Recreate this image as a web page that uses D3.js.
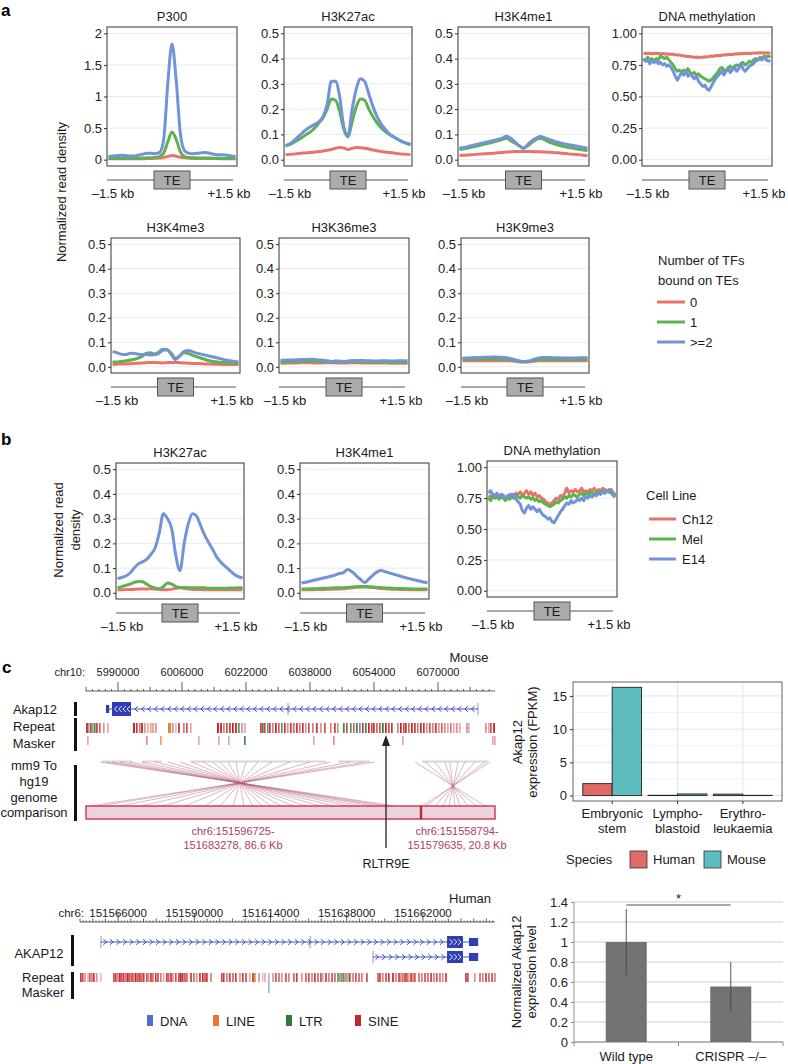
<!DOCTYPE html>
<html><head><meta charset="utf-8">
<script src="https://cdn.jsdelivr.net/npm/d3@7/dist/d3.min.js"></script>
<style>html,body{margin:0;padding:0;background:#fff;}</style>
</head><body>
<svg id="fig" width="788" height="1064" xmlns="http://www.w3.org/2000/svg"></svg>
<script>
// ================= DATA =================
const tfGroups = ["0", "1", ">=2"];
const cellLines = ["Ch12", "Mel", "E14"];
const profileRange = [-1.5, 1.5]; // kb around TE

const p300Ticks = [0, 0.5, 1, 1.5, 2];
const p300TickLabels = ["0", "0.5", "1", "1.5", "2"];
const histTicks = [0, 0.1, 0.2, 0.3, 0.4, 0.5];
const histTickLabels = ["0.0", "0.1", "0.2", "0.3", "0.4", "0.5"];
const methTicks = [0, 0.25, 0.5, 0.75, 1];
const methTickLabels = ["0.00", "0.25", "0.50", "0.75", "1.00"];

// panel a (31 bins, -1.5..+1.5 kb)
const p300_tf0 = [0.015,0.015,0.015,0.015,0.015,0.015,0.015,0.015,0.015,0.018,0.02,0.022,0.025,0.035,0.05,0.065,0.055,0.04,0.03,0.025,0.02,0.02,0.018,0.018,0.02,0.02,0.018,0.015,0.015,0.015,0.015];
const p300_tf1 = [0.02,0.02,0.02,0.02,0.02,0.02,0.02,0.022,0.025,0.028,0.03,0.035,0.05,0.1,0.28,0.44,0.32,0.12,0.05,0.035,0.03,0.028,0.025,0.025,0.025,0.022,0.02,0.02,0.02,0.02,0.02];
const p300_tf2 = [0.05,0.06,0.065,0.07,0.065,0.06,0.06,0.07,0.085,0.1,0.1,0.095,0.11,0.3,1.2,1.83,1.25,0.4,0.14,0.1,0.095,0.1,0.11,0.115,0.1,0.085,0.075,0.08,0.07,0.06,0.05];

const k27ac_tf0 = [0.02,0.021,0.022,0.024,0.026,0.027,0.028,0.03,0.032,0.034,0.037,0.04,0.045,0.048,0.046,0.04,0.045,0.048,0.047,0.045,0.042,0.038,0.035,0.032,0.03,0.028,0.026,0.024,0.022,0.021,0.02];
const k27ac_tf1 = [0.055,0.06,0.068,0.078,0.088,0.1,0.11,0.125,0.145,0.165,0.2,0.24,0.235,0.19,0.12,0.09,0.15,0.21,0.24,0.235,0.2,0.17,0.145,0.125,0.11,0.1,0.09,0.08,0.072,0.065,0.06];
const k27ac_tf2 = [0.055,0.062,0.075,0.09,0.105,0.12,0.13,0.14,0.15,0.17,0.22,0.31,0.31,0.25,0.13,0.095,0.2,0.28,0.32,0.31,0.26,0.21,0.17,0.14,0.12,0.1,0.09,0.08,0.07,0.065,0.06];

const k4me1_tf0 = [0.017,0.018,0.019,0.02,0.021,0.022,0.023,0.024,0.025,0.027,0.028,0.03,0.031,0.032,0.032,0.032,0.032,0.032,0.031,0.031,0.03,0.029,0.028,0.027,0.025,0.024,0.022,0.021,0.02,0.018,0.017];
const k4me1_tf1 = [0.04,0.043,0.046,0.05,0.054,0.058,0.062,0.066,0.07,0.075,0.08,0.085,0.075,0.065,0.055,0.045,0.055,0.068,0.08,0.085,0.078,0.07,0.064,0.058,0.054,0.05,0.047,0.044,0.041,0.038,0.036];
const k4me1_tf2 = [0.045,0.048,0.052,0.056,0.06,0.064,0.068,0.072,0.076,0.08,0.085,0.093,0.085,0.07,0.055,0.045,0.06,0.075,0.085,0.092,0.086,0.08,0.074,0.069,0.065,0.061,0.058,0.055,0.052,0.048,0.045];

// DNA methylation (61 bins)
const meth_tf0 = [0.840,0.843,0.840,0.842,0.838,0.841,0.843,0.840,0.838,0.840,0.837,0.838,0.835,0.834,0.835,0.831,0.828,0.829,0.824,0.822,0.819,0.816,0.817,0.813,0.811,0.812,0.808,0.810,0.811,0.814,0.813,0.817,0.820,0.818,0.822,0.825,0.823,0.827,0.830,0.828,0.832,0.834,0.833,0.836,0.838,0.836,0.840,0.838,0.842,0.840,0.843,0.841,0.845,0.843,0.846,0.844,0.847,0.845,0.847,0.845,0.845];
const meth_tf1 = [0.80,0.78,0.81,0.79,0.80,0.78,0.80,0.79,0.82,0.81,0.80,0.81,0.79,0.77,0.75,0.72,0.70,0.71,0.69,0.71,0.70,0.72,0.69,0.68,0.69,0.67,0.68,0.66,0.65,0.64,0.63,0.62,0.63,0.65,0.67,0.69,0.72,0.73,0.71,0.70,0.73,0.74,0.72,0.74,0.75,0.74,0.76,0.77,0.75,0.76,0.78,0.77,0.79,0.80,0.79,0.81,0.80,0.82,0.81,0.82,0.81];
const meth_tf2 = [0.80,0.78,0.79,0.76,0.78,0.77,0.78,0.76,0.77,0.75,0.76,0.74,0.75,0.73,0.70,0.66,0.63,0.66,0.69,0.67,0.70,0.66,0.68,0.66,0.64,0.66,0.62,0.60,0.58,0.59,0.56,0.55,0.58,0.61,0.64,0.66,0.68,0.70,0.67,0.70,0.72,0.69,0.71,0.73,0.70,0.72,0.76,0.72,0.70,0.72,0.74,0.75,0.76,0.78,0.79,0.80,0.79,0.81,0.79,0.78,0.78];

const k4me3_tf0 = [0.01,0.011,0.012,0.012,0.013,0.014,0.015,0.016,0.017,0.018,0.018,0.017,0.016,0.017,0.018,0.018,0.017,0.016,0.015,0.014,0.014,0.013,0.012,0.012,0.011,0.011,0.01,0.01,0.01,0.01,0.01];
const k4me3_tf1 = [0.02,0.02,0.022,0.024,0.027,0.03,0.035,0.042,0.055,0.058,0.052,0.06,0.072,0.07,0.055,0.035,0.045,0.058,0.055,0.048,0.042,0.036,0.03,0.025,0.022,0.02,0.018,0.017,0.016,0.016,0.015];
const k4me3_tf2 = [0.062,0.058,0.052,0.05,0.054,0.055,0.052,0.05,0.05,0.048,0.05,0.055,0.068,0.07,0.05,0.03,0.045,0.062,0.067,0.062,0.056,0.052,0.048,0.044,0.04,0.036,0.032,0.028,0.025,0.022,0.02];

const k36me3_tf0 = [0.015,0.015,0.016,0.016,0.016,0.017,0.017,0.017,0.016,0.016,0.016,0.017,0.017,0.016,0.016,0.016,0.016,0.017,0.017,0.016,0.016,0.016,0.016,0.016,0.016,0.016,0.015,0.015,0.015,0.015,0.015];
const k36me3_tf1 = [0.02,0.021,0.021,0.022,0.022,0.023,0.023,0.024,0.023,0.022,0.021,0.02,0.02,0.021,0.021,0.02,0.021,0.022,0.022,0.021,0.021,0.021,0.02,0.02,0.02,0.02,0.019,0.019,0.019,0.019,0.019];
const k36me3_tf2 = [0.027,0.027,0.028,0.028,0.029,0.03,0.03,0.031,0.03,0.028,0.027,0.025,0.022,0.024,0.023,0.022,0.024,0.026,0.025,0.026,0.025,0.025,0.024,0.024,0.025,0.025,0.024,0.024,0.025,0.025,0.025];

const k9me3_tf0 = [0.025,0.025,0.025,0.025,0.025,0.025,0.025,0.025,0.025,0.025,0.025,0.025,0.024,0.022,0.02,0.02,0.021,0.023,0.024,0.025,0.025,0.025,0.025,0.025,0.025,0.025,0.025,0.025,0.025,0.025,0.025];
const k9me3_tf1 = [0.03,0.03,0.031,0.031,0.031,0.032,0.032,0.032,0.031,0.031,0.031,0.03,0.028,0.025,0.022,0.021,0.022,0.026,0.029,0.03,0.03,0.03,0.03,0.03,0.03,0.03,0.03,0.03,0.03,0.03,0.03];
const k9me3_tf2 = [0.036,0.036,0.037,0.038,0.038,0.039,0.039,0.04,0.04,0.039,0.038,0.036,0.032,0.027,0.023,0.022,0.024,0.03,0.035,0.038,0.038,0.038,0.037,0.037,0.036,0.036,0.036,0.036,0.037,0.037,0.037];

// panel b (cell lines)
const b_k27ac_ch12 = [0.012,0.012,0.013,0.013,0.014,0.015,0.015,0.015,0.016,0.015,0.014,0.012,0.012,0.015,0.018,0.02,0.018,0.015,0.014,0.013,0.013,0.012,0.012,0.012,0.012,0.012,0.012,0.012,0.012,0.012,0.012];
const b_k27ac_mel = [0.02,0.025,0.03,0.035,0.042,0.046,0.045,0.035,0.025,0.02,0.016,0.025,0.04,0.035,0.025,0.022,0.022,0.021,0.02,0.02,0.02,0.02,0.018,0.018,0.018,0.018,0.018,0.019,0.019,0.02,0.02];
const b_k27ac_e14 = [0.058,0.062,0.068,0.08,0.1,0.117,0.125,0.135,0.155,0.18,0.24,0.32,0.3,0.26,0.15,0.09,0.2,0.28,0.32,0.31,0.27,0.23,0.2,0.17,0.14,0.12,0.105,0.09,0.075,0.065,0.06];

const b_k4me1_ch12 = [0.012,0.012,0.012,0.013,0.013,0.013,0.014,0.014,0.015,0.015,0.016,0.018,0.02,0.022,0.023,0.024,0.023,0.021,0.019,0.017,0.016,0.015,0.014,0.014,0.013,0.013,0.012,0.012,0.012,0.012,0.012];
const b_k4me1_mel = [0.015,0.015,0.016,0.016,0.017,0.018,0.018,0.019,0.02,0.02,0.021,0.022,0.024,0.025,0.026,0.026,0.025,0.024,0.022,0.021,0.02,0.019,0.018,0.017,0.017,0.016,0.016,0.015,0.015,0.015,0.015];
const b_k4me1_e14 = [0.04,0.043,0.047,0.051,0.055,0.059,0.063,0.067,0.072,0.078,0.082,0.094,0.085,0.07,0.055,0.042,0.055,0.072,0.085,0.09,0.085,0.08,0.075,0.07,0.065,0.06,0.056,0.052,0.048,0.044,0.041];

const b_meth_ch12 = [0.77,0.76,0.78,0.75,0.77,0.76,0.78,0.77,0.75,0.77,0.76,0.78,0.77,0.79,0.78,0.80,0.77,0.79,0.81,0.78,0.80,0.77,0.79,0.76,0.77,0.75,0.74,0.72,0.71,0.70,0.71,0.73,0.75,0.74,0.77,0.76,0.79,0.83,0.79,0.81,0.80,0.82,0.80,0.81,0.83,0.80,0.81,0.80,0.82,0.81,0.83,0.80,0.82,0.81,0.83,0.82,0.81,0.80,0.82,0.79,0.78];
const b_meth_mel = [0.75,0.73,0.77,0.75,0.76,0.74,0.76,0.75,0.73,0.75,0.74,0.76,0.75,0.77,0.76,0.75,0.77,0.76,0.75,0.76,0.74,0.75,0.73,0.74,0.72,0.73,0.71,0.70,0.69,0.68,0.69,0.70,0.72,0.71,0.73,0.74,0.76,0.75,0.77,0.76,0.78,0.77,0.76,0.78,0.79,0.77,0.79,0.78,0.80,0.79,0.78,0.80,0.79,0.81,0.80,0.79,0.81,0.80,0.79,0.77,0.76];
const b_meth_e14 = [0.79,0.81,0.78,0.77,0.79,0.76,0.78,0.77,0.75,0.76,0.78,0.77,0.78,0.74,0.72,0.70,0.65,0.63,0.67,0.69,0.66,0.68,0.66,0.64,0.66,0.63,0.61,0.60,0.58,0.59,0.56,0.55,0.58,0.61,0.64,0.66,0.69,0.71,0.70,0.73,0.71,0.72,0.74,0.73,0.75,0.73,0.76,0.75,0.77,0.76,0.78,0.77,0.79,0.78,0.80,0.79,0.81,0.82,0.80,0.79,0.77];

// panel c: genome browser (positions in kb)
const mouseWindow = [5982.0, 6084.25];
const mouseRulerLabels = [5990000, 6006000, 6022000, 6038000, 6054000, 6070000];
const mouseGene = {start: 5987.0, end: 6080.0, small: [5987.0, 5987.8], thick: [5988.5, 5993.25], marks: [6032.5, 6080.0], strand: -1};
// [start kb, width kb, class, shade]
const mouseRepeats = [
[5982.0,.5,"S",.9],[5982.5,.3,"S",.5],[5983.0,.4,"R",.9],[5983.5,.3,"S",.6],[5984.0,.4,"R",.8],[5984.5,.3,"S",.9],[5985.25,.3,"S",.7],[5986.25,.3,"S",.5],[5987.25,.3,"S",.4],
[5993.75,.5,"S",1],[5994.5,.4,"S",.9],[5995.25,.3,"S",.6],[5995.75,.5,"S",.9],[5996.5,.3,"S",.5],[5997.25,.3,"L",.6],[5998.0,.3,"S",.4],[5998.5,.3,"L",.7],[5999.25,.3,"S",.5],
[6002.5,.75,"L",.9],[6003.5,.3,"S",.5],[6004.25,.3,"S",.3],[6005.0,.5,"S",.8],[6006.25,.3,"S",.6],[6007.0,.4,"S",.8],[6008.0,.3,"S",.4],
[6014.75,.5,"S",1],[6015.5,.5,"S",.9],[6016.25,.3,"S",.6],[6017.0,.3,"S",.8],[6017.75,.4,"S",.9],[6018.5,.3,"S",1],[6019.25,.5,"S",.9],[6020.0,.3,"R",.8],[6020.75,.3,"S",.5],[6021.5,.3,"S",.4],
[6025.5,.4,"S",.9],[6026.0,.3,"R",.9],[6026.5,.4,"S",.8],[6027.25,.3,"R",.7],[6027.75,.3,"S",.9],[6028.5,.3,"S",.6],[6029.25,.4,"S",1],[6030.0,.3,"S",.7],[6030.75,.3,"R",.8],[6031.5,.3,"S",.9],[6032.25,.3,"S",.5],[6033.0,.4,"S",.9],[6033.75,.3,"S",.7],[6034.5,.3,"S",.9],[6035.25,.3,"S",.6],[6036.0,.3,"S",.9],[6036.75,.3,"S",.5],[6037.5,.3,"S",.8],[6038.5,.3,"S",.6],[6039.5,.3,"S",.9],[6040.5,.3,"S",.5],[6041.5,.3,"S",.8],
[6043.0,.3,"S",.6],[6044.0,.3,"S",.9],[6044.75,.3,"S",.5],[6046.25,.4,"R",.9],[6047.0,.3,"S",.8],[6048.0,.3,"R",.8],[6048.75,.3,"S",.7],[6049.5,.4,"R",.9],[6050.25,.3,"D",.8],[6051.0,.3,"S",.9],[6051.75,.3,"R",.9],[6052.5,.3,"S",1],[6053.25,.3,"S",.8],[6053.75,.3,"S",.9],[6054.5,.3,"S",.7],[6055.25,.3,"S",.8],[6056.0,.4,"R",1],[6056.75,.4,"S",1],[6057.5,.3,"S",.8],[6058.25,.3,"S",.9],
[6059.75,.3,"S",.6],[6060.5,.4,"S",1],[6061.25,.3,"S",.8],[6061.75,.3,"S",.9],[6062.5,.3,"S",.7],[6063.25,.4,"S",1],[6064.0,.3,"S",.9],[6064.75,.3,"S",.6],[6065.5,.4,"S",1],[6066.25,.3,"S",.9],[6067.0,.3,"S",.5],[6067.75,.3,"S",.8],[6068.5,.3,"S",.6],[6069.25,.3,"S",.9],[6070.0,.3,"S",.5],[6070.75,.3,"S",.7],[6071.5,.3,"S",.5],[6072.25,.3,"S",.4],[6073.0,.3,"S",.6],[6073.75,.3,"S",.4],[6074.5,.3,"S",.5],[6075.25,.3,"S",.4],
[6077.0,.3,"S",.5],[6077.5,.3,"S",.4],[6081.75,.3,"S",.5],[6082.5,.3,"S",.4],[6083.0,.4,"S",.8],[6083.75,.5,"S",.9]];
const mouseRepeatsLane2 = [[5982.25,.2,"S",.4],[5997.0,.2,"S",.5],[6000.5,.25,"L",.7],[6010.0,.2,"S",.4],[6015.0,.2,"S",.4],[6017.5,.2,"S",.4],[6021.5,.3,"R",.9],[6038.75,.2,"S",.4],[6043.75,.2,"S",.5],[6061.0,.2,"S",.4],[6083.5,.2,"S",.4],[6084.0,.2,"S",.4]];
// chain links: [mouse kb at top, projected kb at bottom]
const chainLinks = [[5985.5,6059.25],[5987.0,6057.5],[5988.5,6055.5],[5990.5,6053.5],[5993.0,6050.5],[5996.0,6047.5],[5999.25,6044.0],[6002.5,6040.5],[6005.5,6037.0],[6008.5,6033.75],[6011.25,6030.75],[6013.5,6028.25],[6015.5,6026.0],[6017.5,6023.75],[6019.5,6021.5],[6022.0,6018.75],[6025.0,6015.5],[6028.5,6011.75],[6033.0,6006.75],[6038.0,6001.25],[6043.0,5995.75],[6048.0,5990.25],[6051.75,5985.5],[6054.25,5983.0],
[6064.25,6081.75],[6066.75,6079.5],[6069.25,6077.5],[6071.75,6075.5],[6073.0,6074.25],[6075.0,6072.75],[6076.75,6071.25],[6079.25,6069.25],[6081.75,6067.0],[6083.0,6066.0]];
const chainTopBlocks = [[5986.0,5993.5],[5996.0,6001.0],[6008.0,6042.0],[6045.0,6053.0],[6066.0,6082.5]];
const chainBoxes = [[5982.0,6065.75],[6065.75,6084.25]];
const chainLabels = [["chr6:151596725-","151683278, 86.6 Kb"],["chr6:151558794-","151579635, 20.8 Kb"]];
const chainLabelPos = [6018.75, 6074.75];
const rltr9ePos = 6057.0;

const humanWindowStart = 151554.0;
const humanWindow = [0, 130.7]; // kb offsets from window start
const humanRulerLabels = [151566000, 151590000, 151614000, 151638000, 151662000];
const humanGenes = [
  {start: 6.6, end: 125.1, small: [122.5, 125.4], thick: [115.6, 120.6], marks: [6.6, 72.5], strand: 1},
  {start: 92.3, end: 125.1, small: [122.5, 125.4], thick: [115.6, 120.6], marks: [92.3], strand: 1}];
const humanRepeats = [
[0.0,.45,"S",.9],[0.6,.45,"S",.8],[1.3,.45,"S",.5],[2.2,.45,"S",.3],[2.8,.45,"S",.8],[3.5,.45,"S",.6],[4.1,.45,"S",.9],[5.0,.45,"S",.5],[6.3,.45,"S",.3],
[10.4,.45,"S",.8],[11.0,.45,"S",.9],[11.7,.45,"S",.6],[12.3,.45,"S",1],[12.9,.45,"S",.8],[13.5,.45,"S",.9],[14.2,.45,"S",.7],[14.8,.45,"S",1],[15.4,.45,"S",.8],[16.1,.45,"S",.9],[16.7,.45,"S",.6],[17.3,.45,"S",1],[18.0,.45,"S",.8],[18.6,.45,"S",.9],[19.2,.45,"S",.7],[19.8,.45,"S",.9],[20.8,.45,"S",.8],[21.4,.45,"S",.5],[22.1,.45,"S",.9],[22.7,.45,"S",.7],[23.6,.45,"S",.9],[24.3,.45,"S",.8],[25.2,.45,"S",.6],[26.1,.45,"S",.4],[27.1,.45,"S",.9],[27.7,.45,"S",.7],[28.4,.45,"S",.9],[29.0,.45,"S",.5],[29.9,.45,"S",.8],[30.9,.45,"S",.9],[31.5,.45,"S",1],[32.1,.45,"S",.9],[32.8,.45,"S",.8],[33.4,.45,"S",.7],[34.7,.45,"S",.9],[35.6,.45,"S",.7],[36.5,.45,"S",.5],[37.5,.45,"S",.9],[38.4,.45,"S",1],[39.1,.45,"S",.8],[39.7,.45,"S",.9],[41.0,.45,"S",.6],
[44.4,.45,"S",.8],[45.0,.45,"S",.9],[46.0,.45,"S",.6],[46.9,.45,"S",.9],[47.9,.45,"S",.7],[48.8,.45,"S",.9],[50.1,.45,"S",.5],[51.0,.45,"S",.9],[52.0,.45,"S",.8],[53.2,.45,"S",.4],[54.2,.45,"S",.9],[54.8,.45,"L",.9],[56.1,.45,"S",.5],
[57.3,.45,"S",.3],[58.0,.45,"S",.4],[59.2,.3,"D",.5],[60.5,.45,"S",.5],[61.4,.45,"S",.8],[62.4,.45,"S",.7],[63.3,.45,"S",.5],[64.6,.45,"S",.8],[65.5,.45,"S",.6],
[67.1,.45,"S",.7],[68.0,.45,"S",.9],[69.6,.45,"S",.5],[70.9,.45,"S",.7],[71.8,.45,"S",.8],[72.8,.45,"S",.6],[73.7,.45,"S",.9],[74.7,.45,"S",.7],[75.6,.45,"S",.8],[76.2,.45,"D",.5],[77.2,.45,"S",.9],[78.1,.45,"S",.6],[79.1,.45,"S",.8],[80.0,.45,"S",.7],[81.0,.45,"R",.8],[81.6,.45,"R",.6],[82.2,.45,"S",.7],[82.8,.45,"R",.8],[83.5,.45,"S",.6],[84.1,.45,"R",.5],[84.7,.45,"S",.9],[85.7,.45,"S",.6],[86.6,.45,"S",.8],[87.6,.45,"S",.7],[88.5,.45,"S",.6],[90.1,.45,"S",.8],
[93.6,.45,"S",.7],[94.2,.45,"S",.9],[95.1,.45,"S",.6],[96.1,.45,"S",.8],[97.0,.45,"S",.9],[98.3,.45,"S",1],[99.2,.45,"S",.6],[100.2,.45,"S",.9],[100.8,.45,"L",.8],[101.4,.45,"S",.7],[102.1,.45,"S",.9],[102.7,.45,"S",.8],[103.3,.45,"L",.7],[104.0,.45,"S",.9],[104.6,.45,"S",.6],[105.2,.45,"S",.8],[106.5,.45,"S",.7],[107.4,.45,"S",.6],[108.4,.45,"S",.8],[109.3,.45,"S",.7],[110.3,.45,"S",.9],[111.2,.45,"S",.6],[112.1,.45,"S",.8],[113.1,.45,"S",.7],[114.0,.45,"S",.5],[115.0,.45,"S",.9],
[121.3,.45,"S",.9],[121.9,.45,"S",.8],[124.1,.45,"S",.5],[125.7,.45,"S",.7],[126.6,.45,"S",.6],[127.6,.45,"S",.9],[128.5,.45,"S",.7],[129.5,.45,"S",.8],[130.4,.3,"S",.6]];
const humanRepeatsLane2 = [[59.2,.3,"D",.5]];
const repeatClasses = ["DNA", "LINE", "LTR", "SINE"];
const repeatCodes = ["D", "L", "R", "S"];

// Akap12 expression (FPKM)
const tissues = ["Embryonic stem", "Lymphoblastoid", "Erythroleukaemia"];
const tissueLabels = [["Embryonic", "stem"], ["Lympho-", "blastoid"], ["Erythro-", "leukaemia"]];
const species = ["Human", "Mouse"];
const fpkmHuman = [1.8, 0.05, 0.22];
const fpkmMouse = [16.3, 0.25, 0.04];
const fpkmTicks = [0, 5, 10, 15];

// CRISPR knockout
const genotypes = ["Wild type", "CRISPR \u2013/\u2013"];
const relExpr = [1.0, 0.555];
const relErr = [0.33, 0.245];
const relTicks = [0, 0.2, 0.4, 0.6, 0.8, 1, 1.2, 1.4];
const relTickLabels = ["0", "0.2", "0.4", "0.6", "0.8", "1", "1.2", "1.4"];
const sigLevel = 1.37;

// ================= DRAWING =================
const FONT = '"Liberation Sans", Arial, Helvetica, sans-serif';
const COLORS = ["#e8736c", "#5cb24b", "#7292d9"];
const REPCOL = {S: "#c3262b", L: "#e8782c", R: "#2f7a35", D: "#4d6fc9"};
const svg = d3.select("#fig").attr("font-family", FONT);
svg.append("rect").attr("width", 788).attr("height", 1064).attr("fill", "#fff");

function text(g, x, y, s, o = {}) {
  return g.append("text").attr("x", x).attr("y", y).text(s)
    .attr("font-size", o.size || 13).attr("text-anchor", o.anchor || "start")
    .attr("fill", o.fill || "#1a1a1a").attr("font-weight", o.weight || null);
}
function rtext(g, x, y, s, o = {}) {
  return g.append("text").attr("transform", `translate(${x},${y}) rotate(-90)`).text(s)
    .attr("font-size", o.size || 13).attr("text-anchor", "middle").attr("dominant-baseline", "central")
    .attr("fill", o.fill || "#1a1a1a");
}

function drawProfile(cfg) {
  const [L, R, T, B] = cfg.box;
  const g = svg.append("g");
  const y = d3.scaleLinear().domain(cfg.dom).range([B, T]);
  const x = d3.scaleLinear().domain(profileRange).range([L + 1.5, R - 1.5]);
  g.selectAll("line.grid").data(cfg.ticks).join("line").attr("class", "grid")
    .attr("x1", L).attr("x2", R).attr("y1", d => y(d)).attr("y2", d => y(d))
    .attr("stroke", "#ebebeb").attr("stroke-width", 1);
  const ax = g.append("g").attr("transform", `translate(${L},0)`)
    .call(d3.axisLeft(y).tickValues(cfg.ticks).tickFormat((d, i) => cfg.labels[i]).tickSize(3).tickPadding(2));
  ax.select(".domain").remove();
  ax.selectAll(".tick line").attr("stroke", "#333");
  ax.selectAll(".tick text").attr("font-size", 13).attr("fill", "#222").attr("font-family", FONT);
  const line = d3.line()
    .x((v, i, a) => x(profileRange[0] + (profileRange[1] - profileRange[0]) * i / (a.length - 1)))
    .y(v => y(v))
    .curve(cfg.smooth ? d3.curveMonotoneX : d3.curveLinear);
  cfg.series.forEach((vals, k) => g.append("path").attr("d", line(vals)).attr("fill", "none")
    .attr("stroke", COLORS[k]).attr("stroke-width", 3).attr("stroke-linejoin", "round"));
  g.append("rect").attr("x", L).attr("y", T).attr("width", R - L).attr("height", B - T)
    .attr("fill", "none").attr("stroke", "#333").attr("stroke-width", 1);
  text(g, (L + R) / 2, T - 6, cfg.title, {anchor: "middle"});
  const cx = (L + R) / 2, ly = B + 14;
  g.append("line").attr("x1", L).attr("x2", R - 4).attr("y1", ly).attr("y2", ly).attr("stroke", "#555");
  g.append("rect").attr("x", cx - 18).attr("y", ly - 9).attr("width", 36).attr("height", 18)
    .attr("fill", "#ababab").attr("stroke", "#555");
  text(g, cx, ly + 5, "TE", {anchor: "middle"});
  text(g, L + 6, B + 32, "\u20131.5 kb", {anchor: "middle"});
  text(g, R - 8, B + 32, "+1.5 kb", {anchor: "middle"});
}

// ---- panel a ----
const panelsA = [
  {title: "P300", series: [p300_tf0, p300_tf1, p300_tf2], dom: [-0.1, 2.1], ticks: p300Ticks, labels: p300TickLabels, box: [107, 237, 27, 166], smooth: true},
  {title: "H3K27ac", series: [k27ac_tf0, k27ac_tf1, k27ac_tf2], dom: [-0.025, 0.525], ticks: histTicks, labels: histTickLabels, box: [284, 412, 27, 166], smooth: true},
  {title: "H3K4me1", series: [k4me1_tf0, k4me1_tf1, k4me1_tf2], dom: [-0.025, 0.525], ticks: histTicks, labels: histTickLabels, box: [458, 589, 27, 166], smooth: true},
  {title: "DNA methylation", series: [meth_tf0, meth_tf1, meth_tf2], dom: [-0.05, 1.05], ticks: methTicks, labels: methTickLabels, box: [642, 772, 27, 166]},
  {title: "H3K4me3", series: [k4me3_tf0, k4me3_tf1, k4me3_tf2], dom: [-0.025, 0.525], ticks: histTicks, labels: histTickLabels, box: [111, 240, 238, 373], smooth: true},
  {title: "H3K36me3", series: [k36me3_tf0, k36me3_tf1, k36me3_tf2], dom: [-0.025, 0.525], ticks: histTicks, labels: histTickLabels, box: [279, 409, 238, 373], smooth: true},
  {title: "H3K9me3", series: [k9me3_tf0, k9me3_tf1, k9me3_tf2], dom: [-0.025, 0.525], ticks: histTicks, labels: histTickLabels, box: [461, 589, 238, 373], smooth: true}
];
panelsA.forEach(drawProfile);
text(svg, 1, 16, "a", {size: 17, weight: "bold", fill: "#000"});
rtext(svg, 61, 192, "Normalized read density");
text(svg, 658, 265, "Number of TFs");
text(svg, 658, 285, "bound on TEs");
tfGroups.forEach((t, i) => {
  const yy = 302 + i * 20;
  svg.append("line").attr("x1", 657).attr("x2", 685).attr("y1", yy).attr("y2", yy).attr("stroke", COLORS[i]).attr("stroke-width", 3);
  text(svg, 690, yy + 4.5, t);
});

// ---- panel b ----
const panelsB = [
  {title: "H3K27ac", series: [b_k27ac_ch12, b_k27ac_mel, b_k27ac_e14], dom: [-0.025, 0.525], ticks: histTicks, labels: histTickLabels, box: [116, 244, 463, 599], smooth: true},
  {title: "H3K4me1", series: [b_k4me1_ch12, b_k4me1_mel, b_k4me1_e14], dom: [-0.025, 0.525], ticks: histTicks, labels: histTickLabels, box: [300, 429, 463, 599], smooth: true},
  {title: "DNA methylation", series: [b_meth_ch12, b_meth_mel, b_meth_e14], dom: [-0.05, 1.05], ticks: methTicks, labels: methTickLabels, box: [487, 617, 461, 597]}
];
panelsB.forEach(drawProfile);
text(svg, 1, 445, "b", {size: 17, weight: "bold", fill: "#000"});
rtext(svg, 58, 530, "Normalized read");
rtext(svg, 75, 530, "density");
text(svg, 646, 500, "Cell Line");
cellLines.forEach((t, i) => {
  const yy = 519 + i * 20;
  svg.append("line").attr("x1", 649).attr("x2", 676).attr("y1", yy).attr("y2", yy).attr("stroke", COLORS[i]).attr("stroke-width", 3);
  text(svg, 682, yy + 4.5, t);
});

// ---- panel c ----
text(svg, 2, 673, "c", {size: 17, weight: "bold", fill: "#000"});
const gc = svg.append("g");
const mx = d3.scaleLinear().domain(mouseWindow).range([86, 495]);
const hx = d3.scaleLinear().domain(humanWindow).range([80, 495]);

function ruler(scale, y0, centreKb, stepKb, kRange, majorEvery, medEvery, heights) {
  gc.append("line").attr("x1", scale.range()[0]).attr("x2", scale.range()[1]).attr("y1", y0).attr("y2", y0)
    .attr("stroke", "#333").attr("stroke-width", 0.8);
  const ks = d3.range(kRange[0], kRange[1]).filter(k => {
    const p = centreKb + k * stepKb; return p >= scale.domain()[0] && p <= scale.domain()[1];
  });
  gc.selectAll(null).data(ks).join("line")
    .attr("x1", k => scale(centreKb + k * stepKb)).attr("x2", k => scale(centreKb + k * stepKb))
    .attr("y1", y0).attr("y2", k => y0 - (k % majorEvery === 0 ? heights[0] : k % medEvery === 0 ? heights[1] : heights[2]))
    .attr("stroke", "#333").attr("stroke-width", 0.8);
}
// mouse ruler
ruler(mx, 691, 5990, 1.6, [-6, 60], 10, 5, [9, 4, 2]);
text(gc, 85, 676, "chr10:", {size: 11, anchor: "end"});
mouseRulerLabels.forEach(v => text(gc, mx(v / 1000), 676, String(v), {size: 11, anchor: "middle"}));
text(gc, 469, 662, "Mouse", {anchor: "middle"});

// human ruler
ruler(d3.scaleLinear().domain([humanWindowStart + humanWindow[0], humanWindowStart + humanWindow[1]]).range(hx.range()),
  922, 151566, 1, [-14, 120], 24, 4, [9, 3.5, 1.5]);
text(gc, 84, 917, "chr6:", {size: 11.5, anchor: "end"});
humanRulerLabels.forEach(v => text(gc, hx(v / 1000 - humanWindowStart), 917, String(v), {size: 11.5, anchor: "middle"}));
text(gc, 470, 903, "Human", {anchor: "middle"});

// genes
const GENECOL = "#2f3fb3";
function drawGene(scale, y, gdef, thickH) {
  const x0 = scale(gdef.start), x1 = scale(gdef.end);
  gc.append("line").attr("x1", x0).attr("x2", x1).attr("y1", y).attr("y2", y).attr("stroke", GENECOL).attr("stroke-width", 0.9);
  const tA = scale(gdef.thick[0]), tB = scale(gdef.thick[1]);
  const sA = scale(gdef.small[0]), sB = scale(gdef.small[1]);
  const d = gdef.strand;
  const chev = d3.range(Math.min(x0, x1) + 4, Math.max(x0, x1) - 2, 6.6)
    .filter(c => !(c > Math.min(tA, sA) - 3 && c < Math.max(tB, sB) + 3));
  gc.selectAll(null).data(chev).join("path")
    .attr("d", c => `M${c - 1.6 * d},${y - 2.8} L${c + 1.6 * d},${y} L${c - 1.6 * d},${y + 2.8}`)
    .attr("fill", "none").attr("stroke", GENECOL).attr("stroke-width", 0.9);
  gdef.marks.forEach(m => gc.append("line").attr("x1", scale(m)).attr("x2", scale(m)).attr("y1", y - 6).attr("y2", y + 6)
    .attr("stroke", GENECOL).attr("stroke-width", 0.8).attr("opacity", 0.7));
  gc.append("rect").attr("x", sA).attr("y", y - 4).attr("width", sB - sA).attr("height", 8).attr("fill", GENECOL);
  gc.append("rect").attr("x", tA).attr("y", y - thickH / 2).attr("width", tB - tA).attr("height", thickH).attr("fill", GENECOL);
  const inner = d3.range(tA + 4, tB - 2, 4.2);
  gc.selectAll(null).data(inner).join("path")
    .attr("d", c => `M${c - 1.5 * d},${y - 3} L${c + 1.5 * d},${y} L${c - 1.5 * d},${y + 3}`)
    .attr("fill", "none").attr("stroke", "#fff").attr("stroke-width", 0.9);
}
drawGene(mx, 709, mouseGene, 14);
humanGenes.forEach((gd, i) => drawGene(hx, 942 + i * 15, gd, 12));

// repeats
function drawRepeats(scale, list, y, h) {
  gc.selectAll(null).data(list).join("rect")
    .attr("x", d => scale(d[0])).attr("y", y).attr("width", d => Math.max(1.7, scale(d[0] + d[1]) - scale(d[0])))
    .attr("height", h).attr("fill", d => REPCOL[d[2]]).attr("opacity", d => d[3]);
}
drawRepeats(mx, mouseRepeats, 723, 10);
drawRepeats(mx, mouseRepeatsLane2, 736, 9);
drawRepeats(hx, humanRepeats, 973, 9);
drawRepeats(hx, humanRepeatsLane2, 982, 11);

// chain track
chainTopBlocks.forEach(b => gc.append("rect").attr("x", mx(b[0])).attr("y", 760.5).attr("width", mx(b[1]) - mx(b[0])).attr("height", 2)
  .attr("fill", "#c9c2e0").attr("opacity", 0.7));
gc.selectAll(null).data(chainLinks).join("line")
  .attr("x1", d => mx(d[0])).attr("y1", 762).attr("x2", d => mx(d[1])).attr("y2", 806)
  .attr("stroke", "#b8607f").attr("stroke-width", 0.7).attr("opacity", 0.65);
chainBoxes.forEach(b => gc.append("rect").attr("x", mx(b[0])).attr("y", 806).attr("width", mx(b[1]) - mx(b[0])).attr("height", 13)
  .attr("fill", "#ecd2dd").attr("stroke", "#c4283f").attr("stroke-width", 1.3));
gc.append("line").attr("x1", mx(chainBoxes[0][1])).attr("x2", mx(chainBoxes[0][1])).attr("y1", 806).attr("y2", 819)
  .attr("stroke", "#c4283f").attr("stroke-width", 2.5);
chainLabels.forEach((lab, i) => {
  text(gc, mx(chainLabelPos[i]), 835, lab[0], {size: 11, anchor: "middle", fill: "#b23a68"});
  text(gc, mx(chainLabelPos[i]), 849, lab[1], {size: 11, anchor: "middle", fill: "#b23a68"});
});
// arrow RLTR9E
const ax0 = mx(rltr9ePos);
gc.append("line").attr("x1", ax0).attr("x2", ax0).attr("y1", 848).attr("y2", 742).attr("stroke", "#222").attr("stroke-width", 1.3);
gc.append("path").attr("d", `M${ax0},735 L${ax0 - 4},746 L${ax0 + 4},746 Z`).attr("fill", "#222");
text(gc, ax0, 868, "RLTR9E", {size: 12.5, anchor: "middle"});

// track labels
text(gc, 57, 713.5, "Akap12", {anchor: "end"});
text(gc, 34, 731, "Repeat", {anchor: "middle"});
text(gc, 34, 748, "Masker", {anchor: "middle"});
[["mm9 To", 770], ["hg19", 786], ["genome", 802], ["comparison", 817]].forEach(t => text(gc, 34, t[1], t[0], {anchor: "middle"}));
text(gc, 39, 957.5, "AKAP12", {anchor: "middle"});
text(gc, 43, 981.5, "Repeat", {anchor: "middle"});
text(gc, 43, 996.5, "Masker", {anchor: "middle"});
[[74, 702, 716], [74, 718, 751], [74, 765, 821], [71, 935, 966], [71, 972, 999]].forEach(b =>
  gc.append("rect").attr("x", b[0]).attr("y", b[1]).attr("width", 3).attr("height", b[2] - b[1]).attr("fill", "#111"));

// repeat legend
const legX = [147, 213, 286, 355];
repeatClasses.forEach((c, i) => {
  gc.append("rect").attr("x", legX[i]).attr("y", 1015).attr("width", 6).attr("height", 11).attr("fill", REPCOL[repeatCodes[i]]);
  text(gc, legX[i] + 13, 1025.5, c);
});

// ---- FPKM bar chart ----
const gb = svg.append("g");
const fx = d3.scalePoint().domain(tissues).range([573, 782]).padding(0.6);
const fy = d3.scaleLinear().domain([-0.815, 17.1]).range([801, 682]);
const fL = 573, fR = 782, fT = 682, fB = 801;
[2.5, 7.5, 12.5].forEach(v => gb.append("line").attr("x1", fL).attr("x2", fR).attr("y1", fy(v)).attr("y2", fy(v)).attr("stroke", "#f2f2f2"));
fpkmTicks.forEach(v => gb.append("line").attr("x1", fL).attr("x2", fR).attr("y1", fy(v)).attr("y2", fy(v)).attr("stroke", "#e3e3e3"));
tissues.forEach(t => gb.append("line").attr("x1", fx(t)).attr("x2", fx(t)).attr("y1", fT).attr("y2", fB).attr("stroke", "#e3e3e3"));
const bw = fx.step() * 0.45;
tissues.forEach((t, i) => {
  const vals = [fpkmHuman[i], fpkmMouse[i]];
  vals.forEach((v, k) => gb.append("rect").attr("x", fx(t) - bw + k * bw).attr("y", fy(v)).attr("width", bw)
    .attr("height", fy(0) - fy(v)).attr("fill", k === 0 ? "#e06b66" : "#5cbcbe").attr("stroke", "#222").attr("stroke-width", 0.9));
});
gb.append("rect").attr("x", fL).attr("y", fT).attr("width", fR - fL).attr("height", fB - fT).attr("fill", "none").attr("stroke", "#555").attr("stroke-width", 0.9);
const fax = gb.append("g").attr("transform", `translate(${fL},0)`).call(d3.axisLeft(fy).tickValues(fpkmTicks).tickSize(3).tickPadding(3));
fax.select(".domain").remove();
fax.selectAll(".tick line").attr("stroke", "#333");
fax.selectAll(".tick text").attr("font-size", 13).attr("fill", "#222").attr("font-family", FONT);
tissues.forEach((t, i) => {
  gb.append("line").attr("x1", fx(t)).attr("x2", fx(t)).attr("y1", fB).attr("y2", fB + 3).attr("stroke", "#333");
  text(gb, fx(t), 818, tissueLabels[i][0], {anchor: "middle"});
  text(gb, fx(t), 833, tissueLabels[i][1], {anchor: "middle"});
});
rtext(gb, 517, 742, "Akap12");
rtext(gb, 532, 742, "expression (FPKM)");
text(gb, 566, 864, "Species");
species.forEach((s, k) => {
  const sx = [630, 704][k];
  gb.append("rect").attr("x", sx).attr("y", 851).attr("width", 17).attr("height", 17)
    .attr("fill", k === 0 ? "#e06b66" : "#5cbcbe").attr("stroke", "#333").attr("stroke-width", 0.8);
  text(gb, sx + 23, 864, s);
});

// ---- CRISPR bar chart ----
const gr = svg.append("g");
const ex = d3.scaleBand().domain(genotypes).range([574, 783]);
const ey = d3.scaleLinear().domain([0, 1.4]).range([1042, 902]);
relTicks.forEach(v => gr.append("line").attr("x1", 574).attr("x2", 783).attr("y1", ey(v)).attr("y2", ey(v)).attr("stroke", "#c8c8c8").attr("stroke-width", 0.9));
gr.append("line").attr("x1", 574).attr("x2", 574).attr("y1", 902).attr("y2", 1042).attr("stroke", "#999");
gr.append("line").attr("x1", 574).attr("x2", 783).attr("y1", 1042).attr("y2", 1042).attr("stroke", "#888");
[574, 678.5, 783].forEach(x => gr.append("line").attr("x1", x).attr("x2", x).attr("y1", 1042).attr("y2", 1046).attr("stroke", "#888"));
const rax = gr.append("g").attr("transform", "translate(574,0)")
  .call(d3.axisLeft(ey).tickValues(relTicks).tickFormat((d, i) => relTickLabels[i]).tickSize(3).tickPadding(3));
rax.select(".domain").remove();
rax.selectAll(".tick line").attr("stroke", "#888");
rax.selectAll(".tick text").attr("font-size", 13).attr("fill", "#222").attr("font-family", FONT);
const rbw = 41;
genotypes.forEach((gname, i) => {
  const cx = ex(gname) + ex.bandwidth() / 2;
  gr.append("rect").attr("x", cx - rbw / 2).attr("y", ey(relExpr[i])).attr("width", rbw).attr("height", ey(0) - ey(relExpr[i])).attr("fill", "#727272");
  gr.append("line").attr("x1", cx).attr("x2", cx).attr("y1", ey(relExpr[i] - relErr[i])).attr("y2", ey(relExpr[i] + relErr[i]))
    .attr("stroke", "#444").attr("stroke-width", 0.9);
  text(gr, cx, 1061, gname, {anchor: "middle"});
});
const c0 = ex(genotypes[0]) + ex.bandwidth() / 2, c1 = ex(genotypes[1]) + ex.bandwidth() / 2;
gr.append("line").attr("x1", c0).attr("x2", c1).attr("y1", ey(sigLevel)).attr("y2", ey(sigLevel)).attr("stroke", "#555").attr("stroke-width", 1.1);
text(gr, (c0 + c1) / 2, ey(sigLevel) - 2, "*", {anchor: "middle"});
rtext(gr, 516, 972, "Normalized Akap12");
rtext(gr, 531, 972, "expression level");
</script>
</body></html>
